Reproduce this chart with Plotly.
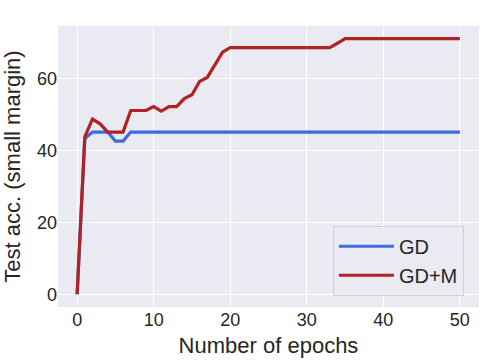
import plotly.graph_objects as go

epochs = list(range(51))

gd_acc = [0.0, 43.3, 45.1, 45.1, 45.1, 42.6, 42.6] + [45.1] * 44

gdm_acc = (
    [0.0, 43.8, 48.7, 47.4, 45.1, 45.1, 45.1, 51.1, 51.1, 51.1,
     52.2, 50.9, 52.2, 52.2, 54.4, 55.5, 59.2, 60.3, 63.8, 67.3]
    + [68.6] * 14
    + [69.8]
    + [71.1] * 16
)

font_family = "Liberation Sans, Arial, sans-serif"
text_color = "#262626"

fig = go.Figure()
fig.add_trace(
    go.Scatter(
        x=epochs,
        y=gd_acc,
        mode="lines",
        name="GD",
        line=dict(color="#4169E1", width=3.2),
    )
)
fig.add_trace(
    go.Scatter(
        x=epochs,
        y=gdm_acc,
        mode="lines",
        name="GD+M",
        line=dict(color="#B22222", width=3.2),
    )
)

fig.update_layout(
    width=504,
    height=360,
    margin=dict(l=58, r=25, t=26, b=53),
    paper_bgcolor="white",
    plot_bgcolor="#EAEAF2",
    font=dict(family=font_family, size=18, color=text_color),
    legend=dict(
        x=0.653,
        y=0.04,
        xanchor="left",
        yanchor="bottom",
        bgcolor="rgba(234,234,242,0.8)",
        bordercolor="#d0d0d0",
        borderwidth=1,
        font=dict(size=20, color=text_color),
        itemwidth=55,
        entrywidth=130,
    ),
)
fig.update_xaxes(
    range=[-2.5, 52.5],
    tickvals=[0, 10, 20, 30, 40, 50],
    showgrid=True,
    gridcolor="white",
    gridwidth=1.2,
    zeroline=False,
    showline=False,
    ticks="",
    automargin=False,
    title=dict(text="Number of epochs", font=dict(size=22), standoff=8),
)
fig.update_yaxes(
    range=[-3.55, 74.6],
    tickvals=[0, 20, 40, 60],
    showgrid=True,
    gridcolor="white",
    gridwidth=1.2,
    zeroline=False,
    showline=False,
    ticks="",
    automargin=False,
    title=dict(text="Test acc. (small margin)", font=dict(size=22), standoff=12),
)

# the page body has a default 8px margin; drop it so the figure fills the window
fig.write_html(
    "out.html",
    config={"displayModeBar": False},
    post_script="document.body.style.margin='0';",
)
